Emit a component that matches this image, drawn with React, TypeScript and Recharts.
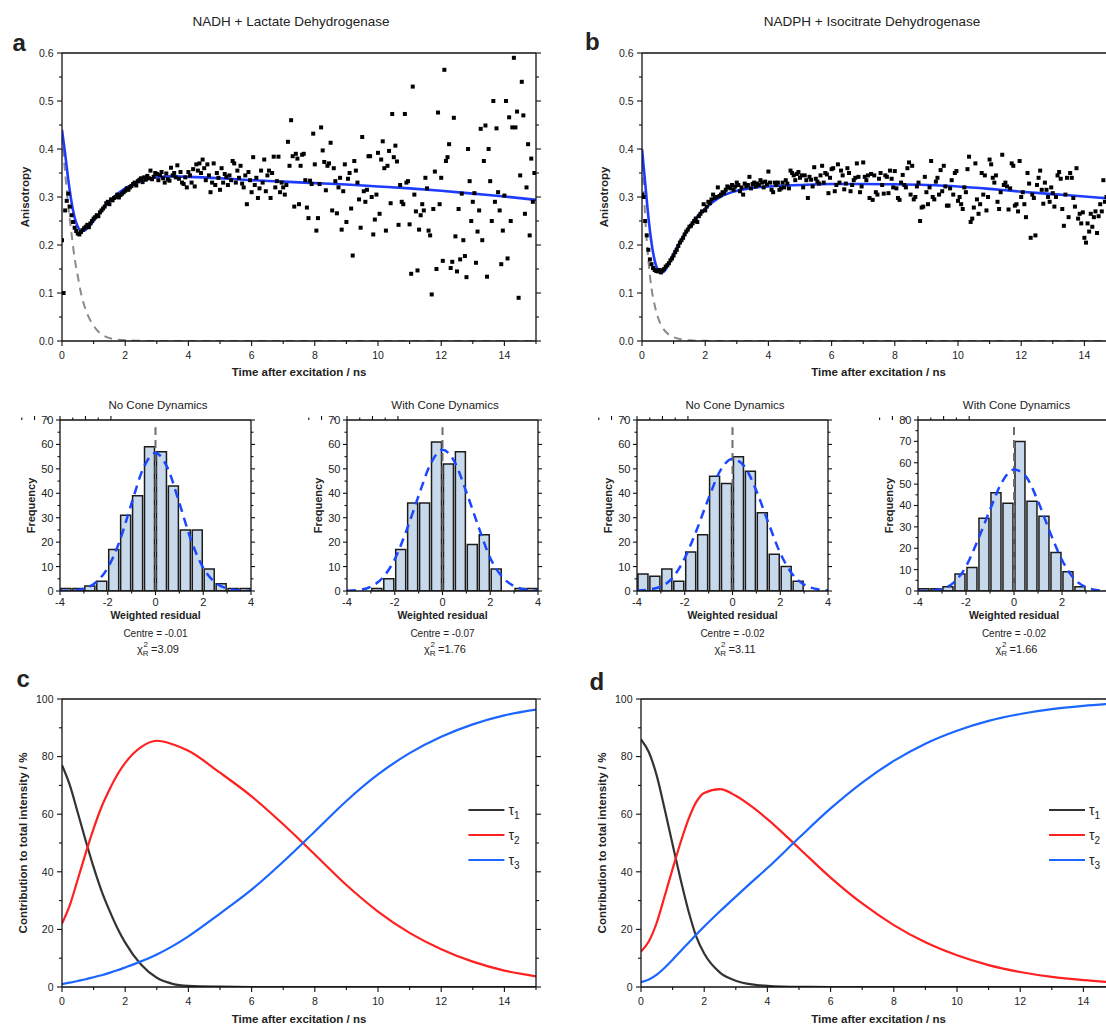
import { Bar, ComposedChart, Line, ReferenceLine, Scatter, XAxis, YAxis } from 'recharts'

const FONT = '"Liberation Sans", Arial, Helvetica, sans-serif'
const INK = '#111111'
const TEXT = '#222222'

// ---------- a / b : anisotropy decays ----------
const STEP_NS = 0.05

const ANISO_A = [
  0.21, 0.10, 0.272, 0.292, 0.307, 0.28, 0.262, 0.248, 0.236, 0.229, 0.224, 0.222, 0.227, 0.231, 0.235, 0.238, 0.242, 0.237, 0.245, 0.25,
  0.255, 0.258, 0.262, 0.26, 0.268, 0.272, 0.276, 0.28, 0.287, 0.29, 0.285, 0.295, 0.293, 0.298, 0.3, 0.305, 0.299, 0.304, 0.307, 0.31,
  0.313, 0.318, 0.315, 0.32, 0.323, 0.327, 0.33, 0.324, 0.333, 0.336, 0.339, 0.331, 0.341, 0.336, 0.344, 0.339, 0.355, 0.337, 0.342, 0.35,
  0.348, 0.335, 0.346, 0.352, 0.339, 0.33, 0.349, 0.337, 0.334, 0.361, 0.345, 0.35, 0.341, 0.366, 0.338, 0.352, 0.33, 0.327, 0.341, 0.32,
  0.352, 0.345, 0.33, 0.358, 0.322, 0.368, 0.355, 0.37, 0.35, 0.378, 0.36, 0.335, 0.368, 0.345, 0.31, 0.33, 0.37, 0.325, 0.35, 0.34,
  0.315, 0.36, 0.33, 0.348, 0.342, 0.325, 0.345, 0.335, 0.375, 0.37, 0.33, 0.355, 0.34, 0.365, 0.328, 0.32, 0.345, 0.285, 0.352, 0.335,
  0.31, 0.383, 0.325, 0.34, 0.298, 0.318, 0.355, 0.33, 0.378, 0.312, 0.345, 0.355, 0.298, 0.35, 0.384, 0.32, 0.333, 0.384, 0.31, 0.33,
  0.32, 0.305, 0.325, 0.415, 0.365, 0.46, 0.385, 0.28, 0.39, 0.38, 0.285, 0.365, 0.388, 0.39, 0.335, 0.278, 0.256, 0.334, 0.327, 0.432,
  0.368, 0.23, 0.256, 0.327, 0.445, 0.397, 0.373, 0.314, 0.365, 0.37, 0.413, 0.272, 0.36, 0.333, 0.266, 0.32, 0.34, 0.232, 0.312, 0.368,
  0.248, 0.338, 0.35, 0.276, 0.178, 0.375, 0.355, 0.33, 0.295, 0.236, 0.425, 0.312, 0.29, 0.315, 0.385, 0.385, 0.3, 0.222, 0.253, 0.305,
  0.392, 0.265, 0.378, 0.416, 0.36, 0.23, 0.365, 0.396, 0.287, 0.473, 0.383, 0.407, 0.374, 0.242, 0.325, 0.29, 0.285, 0.473, 0.33, 0.333,
  0.243, 0.14, 0.53, 0.305, 0.27, 0.147, 0.232, 0.262, 0.285, 0.272, 0.34, 0.318, 0.23, 0.22, 0.097, 0.275, 0.353, 0.15, 0.476, 0.285,
  0.34, 0.167, 0.565, 0.375, 0.383, 0.41, 0.152, 0.165, 0.465, 0.218, 0.145, 0.275, 0.17, 0.307, 0.21, 0.177, 0.133, 0.4, 0.333, 0.25,
  0.29, 0.308, 0.163, 0.228, 0.272, 0.442, 0.21, 0.375, 0.449, 0.134, 0.4, 0.333, 0.25, 0.5, 0.29, 0.443, 0.31, 0.272, 0.16, 0.23,
  0.303, 0.5, 0.172, 0.466, 0.25, 0.445, 0.59, 0.445, 0.478, 0.09, 0.345, 0.54, 0.47, 0.265, 0.32, 0.41, 0.22, 0.38, 0.29, 0.35,
]

const ANISO_B = [
  0.305, 0.3, 0.25, 0.22, 0.19, 0.17, 0.16, 0.152, 0.148, 0.146, 0.145, 0.148, 0.143, 0.147, 0.15, 0.155, 0.158, 0.162, 0.168, 0.172,
  0.178, 0.185, 0.19, 0.198, 0.205, 0.21, 0.215, 0.222, 0.228, 0.232, 0.238, 0.24, 0.245, 0.25, 0.255, 0.248, 0.26, 0.265, 0.27, 0.285,
  0.272, 0.28, 0.29, 0.287, 0.295, 0.305, 0.298, 0.3, 0.32, 0.302, 0.305, 0.31, 0.308, 0.315, 0.322, 0.32, 0.318, 0.325, 0.315, 0.322,
  0.33, 0.325, 0.312, 0.32, 0.305, 0.328, 0.322, 0.325, 0.342, 0.318, 0.327, 0.33, 0.322, 0.328, 0.325, 0.335, 0.33, 0.32, 0.332, 0.326,
  0.353, 0.33, 0.315, 0.31, 0.33, 0.325, 0.33, 0.315, 0.318, 0.33, 0.32, 0.335, 0.328, 0.318, 0.355, 0.35, 0.345, 0.335, 0.348, 0.352,
  0.34, 0.345, 0.32, 0.345, 0.335, 0.298, 0.342, 0.336, 0.322, 0.362, 0.338, 0.332, 0.328, 0.345, 0.365, 0.33, 0.35, 0.347, 0.308, 0.34,
  0.358, 0.36, 0.312, 0.325, 0.368, 0.33, 0.355, 0.345, 0.316, 0.328, 0.36, 0.35, 0.312, 0.325, 0.335, 0.34, 0.37, 0.342, 0.31, 0.322,
  0.372, 0.342, 0.335, 0.345, 0.298, 0.348, 0.294, 0.345, 0.31, 0.305, 0.338, 0.35, 0.325, 0.307, 0.345, 0.342, 0.308, 0.355, 0.338, 0.32,
  0.354, 0.318, 0.298, 0.294, 0.33, 0.346, 0.325, 0.32, 0.36, 0.372, 0.305, 0.365, 0.295, 0.3, 0.322, 0.33, 0.25, 0.278, 0.28, 0.342,
  0.31, 0.285, 0.32, 0.375, 0.3, 0.295, 0.332, 0.34, 0.305, 0.356, 0.312, 0.365, 0.322, 0.282, 0.282, 0.318, 0.335, 0.305, 0.35, 0.354,
  0.292, 0.3, 0.285, 0.275, 0.32, 0.31, 0.358, 0.384, 0.248, 0.255, 0.278, 0.37, 0.295, 0.265, 0.285, 0.35, 0.305, 0.345, 0.272, 0.3,
  0.378, 0.368, 0.34, 0.33, 0.345, 0.29, 0.275, 0.31, 0.388, 0.325, 0.33, 0.322, 0.274, 0.318, 0.37, 0.365, 0.282, 0.285, 0.27, 0.375,
  0.3, 0.31, 0.285, 0.258, 0.35, 0.328, 0.215, 0.305, 0.298, 0.22, 0.325, 0.34, 0.355, 0.315, 0.286, 0.33, 0.315, 0.3, 0.29, 0.32,
  0.308, 0.28, 0.3, 0.345, 0.352, 0.338, 0.275, 0.24, 0.305, 0.34, 0.258, 0.35, 0.34, 0.298, 0.28, 0.36, 0.255, 0.265, 0.245, 0.268,
  0.215, 0.205, 0.245, 0.228, 0.265, 0.238, 0.258, 0.27, 0.225, 0.26, 0.285, 0.27, 0.335, 0.29, 0.3, 0.28, 0.32, 0.265, 0.305, 0.29,
]

const FIT_T_A = [0, 0.1, 0.2, 0.3, 0.4, 0.5, 0.6, 0.7, 0.8, 1, 1.25, 1.5, 1.75, 2, 2.5, 3, 3.5, 4, 5, 6, 7, 8, 9, 10, 11, 12, 13, 14, 15]
const FIT_A = [0.44, 0.39, 0.335, 0.29, 0.257, 0.238, 0.23, 0.23, 0.235, 0.25, 0.272, 0.291, 0.306, 0.318, 0.333, 0.341, 0.343, 0.342, 0.339, 0.335, 0.332, 0.329, 0.326, 0.322, 0.318, 0.313, 0.307, 0.301, 0.294]
const DECAY_T_A = [0, 0.1, 0.2, 0.3, 0.4, 0.5, 0.6, 0.75, 1, 1.3, 1.75, 2.5, 3, 15]
const DECAY_A = [0.43, 0.35, 0.28, 0.225, 0.172, 0.135, 0.1, 0.065, 0.032, 0.012, 0.003, 0.0003, 0, 0]

const FIT_T_B = [0, 0.1, 0.2, 0.3, 0.4, 0.5, 0.6, 0.7, 0.8, 1, 1.25, 1.5, 1.75, 2, 2.5, 3, 3.5, 4, 5, 6, 7, 8, 9, 10, 11, 12, 13, 14, 15]
const FIT_B = [0.4, 0.33, 0.26, 0.205, 0.168, 0.148, 0.142, 0.145, 0.155, 0.182, 0.212, 0.238, 0.259, 0.276, 0.301, 0.313, 0.319, 0.322, 0.325, 0.327, 0.3272, 0.3265, 0.325, 0.322, 0.317, 0.311, 0.306, 0.301, 0.296]
const DECAY_T_B = [0, 0.1, 0.2, 0.3, 0.4, 0.5, 0.6, 0.8, 1, 1.2, 1.5, 2, 3, 15]
const DECAY_B = [0.4, 0.26, 0.17, 0.11, 0.075, 0.05, 0.034, 0.016, 0.008, 0.004, 0.0015, 0.0003, 0, 0]

// ---------- residual histograms ----------
const BIN_CENTRES = [-3.75, -3.25, -2.75, -2.25, -1.75, -1.25, -0.75, -0.25, 0.25, 0.75, 1.25, 1.75, 2.25, 2.75, 3.25, 3.75]
const COUNTS_A_NOCONE = [1, 1, 2, 4, 17, 31, 39, 59, 57, 43, 25, 25, 9, 3, 1, 1]
const COUNTS_A_CONE = [0, 0, 1, 5, 17, 36, 36, 61, 52, 57, 19, 23, 9, 0, 1, 1]
const COUNTS_B_NOCONE = [7, 6, 9, 4, 16, 23, 47, 44, 55, 49, 32, 15, 10, 4, 0, 0]
const COUNTS_B_CONE = [1, 1, 2, 8, 11, 34, 46, 41, 70, 42, 35, 18, 9, 2, 0, 0]

const GAUSS_X = [-4, -3.5, -3, -2.5, -2, -1.5, -1, -0.5, 0, 0.5, 1, 1.5, 2, 2.5, 3, 3.5, 4]
const GAUSS_A_NOCONE = [0.05, 0.2, 1, 3.5, 9.5, 20.5, 36, 50.5, 56.5, 50.5, 36, 20.5, 9.5, 3.5, 1, 0.2, 0.05]
const GAUSS_A_CONE = [0.1, 0.4, 1.8, 5.5, 13, 25, 39, 52, 57.8, 53, 40.5, 26.5, 13.5, 5.8, 2, 0.5, 0.1]
const GAUSS_B_NOCONE = [0.2, 0.6, 1.8, 5.5, 13.5, 25, 38, 49.5, 54, 51, 41, 28, 15.5, 7, 2.6, 0.8, 0.2]
const GAUSS_B_CONE = [0.05, 0.2, 1, 4, 11.5, 24, 38, 51, 56.8, 53.5, 42, 27.5, 14.5, 5.8, 1.8, 0.4, 0.08]

const CENTRE_TEXT = ['-0.01', '-0.07', '-0.02', '-0.02']
const CHI2_TEXT = ['3.09', '1.76', '3.11', '1.66']

// ---------- c / d : intensity contributions ----------
const TIMES_CD = [0, 0.25, 0.5, 0.75, 1, 1.25, 1.5, 1.75, 2, 2.5, 3, 3.5, 4, 5, 6, 7, 8, 9, 10, 11, 12, 13, 14, 15]
const TAU1_C = [77, 70, 60.5, 50.8, 41.6, 33.4, 26.6, 20.5, 15.4, 7.8, 3.2, 1.1, 0.4, 0.1, 0, 0, 0, 0, 0, 0, 0, 0, 0, 0]
const TAU2_C = [22, 28.5, 37.4, 46.5, 55, 62.5, 68.5, 73.7, 77.8, 83.3, 85.5, 84.3, 82, 74.4, 66.2, 56.5, 46, 35.4, 26.2, 18.8, 13.1, 8.8, 5.7, 3.7]
const TAU3_C = [1, 1.5, 2.1, 2.7, 3.4, 4.1, 4.9, 5.8, 6.8, 8.9, 11.3, 14.2, 17.6, 25.5, 33.8, 43.5, 54, 64.6, 73.8, 81.2, 86.9, 91.2, 94.3, 96.3]
const TAU1_D = [86, 81.5, 73.3, 61.7, 49.5, 37.5, 26.5, 17.5, 11.6, 5, 2.2, 0.9, 0.4, 0.05, 0, 0, 0, 0, 0, 0, 0, 0, 0, 0]
const TAU2_D = [12.3, 15.9, 22.4, 31.6, 41, 50.1, 58.2, 64.3, 67.4, 68.7, 66.4, 62.7, 58.3, 48.2, 38, 29, 21.5, 15.5, 11, 7.6, 5.2, 3.5, 2.4, 1.6]
const TAU3_D = [1.7, 2.6, 4.3, 6.7, 9.5, 12.4, 15.3, 18.2, 21, 26.3, 31.4, 36.4, 41.3, 51.8, 62, 71, 78.5, 84.5, 89, 92.4, 94.8, 96.5, 97.6, 98.4]

// ---------- ticks ----------
const TIME_TICKS = [0, 1, 2, 3, 4, 5, 6, 7, 8, 9, 10, 11, 12, 13, 14, 15]
const ANISO_TICKS = [0, 0.05, 0.1, 0.15, 0.2, 0.25, 0.3, 0.35, 0.4, 0.45, 0.5, 0.55, 0.6]
const RESID_TICKS = [-4, -3, -2, -1, 0, 1, 2, 3, 4]
const FREQ_TICKS_70 = [0, 5, 10, 15, 20, 25, 30, 35, 40, 45, 50, 55, 60, 65, 70]
const FREQ_TICKS_80 = [0, 5, 10, 15, 20, 25, 30, 35, 40, 45, 50, 55, 60, 65, 70, 75, 80]
const PCT_TICKS = [0, 10, 20, 30, 40, 50, 60, 70, 80, 90, 100]

// ---------- layout ----------
type Rect = { x: number; y: number; w: number; h: number }
const PLOT: Record<string, Rect> = {
  a: { x: 62, y: 53, w: 474, h: 288 },
  b: { x: 641.5, y: 53, w: 474, h: 288 },
  h1: { x: 60, y: 420, w: 191, h: 171 },
  h2: { x: 347, y: 420, w: 191, h: 171 },
  h3: { x: 637, y: 420, w: 191, h: 171 },
  h4: { x: 918, y: 420, w: 192, h: 171 },
  c: { x: 62, y: 699, w: 474, h: 288 },
  d: { x: 641, y: 699, w: 474, h: 288 },
}
// every axis is 1px thick (recharts skips drawing 0-sized axes), margins make up the rest
const AXIS_PX = 1
const MARGIN = { top: 9, right: 11, bottom: 25, left: 45 }

type TickStyle = { fs: number; major: number; minor: number; below: number; beside: number }
const BIG_TICKS: TickStyle = { fs: 10.5, major: 5, minor: 3, below: 17.5, beside: 8.5 }
const HIST_TICKS: TickStyle = { fs: 11, major: 4, minor: 2.5, below: 15, beside: 6.5 }

type Side = 'bottom' | 'top' | 'left' | 'right'

const everyTwo = (v: number) => Math.round(v) % 2 === 0
const tenth = (v: number) => Math.abs(v * 10 - Math.round(v * 10)) < 1e-6
const everyTen = (v: number) => Math.round(v) % 10 === 0
const everyTwenty = (v: number) => Math.round(v) % 20 === 0

function tickRenderer(side: Side, isMajor: (v: number) => boolean, fmt: ((v: number) => string) | null, st: TickStyle) {
  return (props: any) => {
    const { x, y, payload } = props
    const v = Number(payload.value)
    const major = isMajor(v)
    const len = major ? st.major : st.minor
    let x2 = x
    let y2 = y
    if (side === 'bottom') y2 = y + len
    if (side === 'top') y2 = y - len
    if (side === 'left') x2 = x - len
    if (side === 'right') x2 = x + len
    return (
      <g>
        <line x1={x} y1={y} x2={x2} y2={y2} stroke={INK} strokeWidth={1.1} />
        {major && fmt && side === 'bottom' && (
          <text x={x} y={y + st.below} textAnchor="middle" fontSize={st.fs} fill={TEXT}>{fmt(v)}</text>
        )}
        {major && fmt && side === 'left' && (
          <text x={x - st.beside} y={y} dy="0.36em" textAnchor="end" fontSize={st.fs} fill={TEXT}>{fmt(v)}</text>
        )}
      </g>
    )
  }
}

const AXIS_LINE = { stroke: INK, strokeWidth: 1.3 }

function frame(o: {
  xDomain: [number, number]; xTicks: number[]; xMajor: (v: number) => boolean; xFmt: (v: number) => string
  yDomain: [number, number]; yTicks: number[]; yMajor: (v: number) => boolean; yFmt: (v: number) => string
  st: TickStyle; xKey?: string; yKey?: string
}) {
  const common = { type: 'number' as const, allowDataOverflow: true, tickSize: 0, tickMargin: 0, interval: 0 as const, tickLine: false, axisLine: AXIS_LINE }
  return [
    <XAxis key="xb" xAxisId="x" dataKey={o.xKey} domain={o.xDomain} ticks={o.xTicks} height={AXIS_PX} {...common} tick={tickRenderer('bottom', o.xMajor, o.xFmt, o.st)} />,
    <XAxis key="xt" xAxisId="xt" orientation="top" domain={o.xDomain} ticks={o.xTicks} height={AXIS_PX} {...common} tick={tickRenderer('top', o.xMajor, null, o.st)} />,
    <YAxis key="yl" yAxisId="y" dataKey={o.yKey} domain={o.yDomain} ticks={o.yTicks} width={AXIS_PX} {...common} tick={tickRenderer('left', o.yMajor, o.yFmt, o.st)} />,
    <YAxis key="yr" yAxisId="yr" orientation="right" domain={o.yDomain} ticks={o.yTicks} width={AXIS_PX} {...common} tick={tickRenderer('right', o.yMajor, null, o.st)} />,
  ]
}

function Placed({ plot, children }: { plot: Rect; children: (w: number, h: number) => any }) {
  const w = plot.w + MARGIN.left + MARGIN.right + 2 * AXIS_PX
  const h = plot.h + MARGIN.top + MARGIN.bottom + 2 * AXIS_PX
  return (
    <div style={{ position: 'absolute', left: plot.x - MARGIN.left - AXIS_PX, top: plot.y - MARGIN.top - AXIS_PX }}>
      {children(w, h)}
    </div>
  )
}

const Square = (p: any) => <rect x={p.cx - 2} y={p.cy - 2} width={4} height={4} fill="#000" />

const zip = (ts: number[], vs: number[], key: string) => ts.map((t, i) => ({ t, [key]: vs[i] }))

function AnisoPanel({ plot, values, fitT, fit, decayT, decay }: { plot: Rect; values: number[]; fitT: number[]; fit: number[]; decayT: number[]; decay: number[] }) {
  const points = values.map((r, i) => ({ t: Math.round(i * STEP_NS * 100) / 100, r }))
  return (
    <Placed plot={plot}>
      {(w, h) => (
        <ComposedChart width={w} height={h} margin={MARGIN}>
          {frame({ xDomain: [0, 15], xTicks: TIME_TICKS, xMajor: everyTwo, xFmt: String, yDomain: [0, 0.6], yTicks: ANISO_TICKS, yMajor: tenth, yFmt: v => v.toFixed(1), st: BIG_TICKS, xKey: 't', yKey: 'r' })}
          <Scatter xAxisId="x" yAxisId="y" data={points} dataKey="r" shape={Square} isAnimationActive={false} />
          <Line xAxisId="x" yAxisId="y" data={zip(decayT, decay, 'r')} dataKey="r" type="monotone" stroke="#8a8a8a" strokeWidth={2} strokeDasharray="8 6" dot={false} activeDot={false} isAnimationActive={false} />
          <Line xAxisId="x" yAxisId="y" data={zip(fitT, fit, 'r')} dataKey="r" type="monotone" stroke="#1e3cff" strokeWidth={2.6} dot={false} activeDot={false} isAnimationActive={false} />
        </ComposedChart>
      )}
    </Placed>
  )
}

function HistPanel({ plot, counts, gauss, yMax, dashTop }: { plot: Rect; counts: number[]; gauss: number[]; yMax: number; dashTop: number }) {
  const bins = BIN_CENTRES.map((c, i) => ({ bin: String(c), count: counts[i] }))
  const curve = GAUSS_X.map((x, i) => ({ x, y: gauss[i] }))
  return (
    <Placed plot={plot}>
      {(w, h) => (
        <ComposedChart width={w} height={h} margin={MARGIN} data={bins} barCategoryGap="8%">
          <XAxis xAxisId="cat" dataKey="bin" type="category" hide height={0} />
          {frame({ xDomain: [-4, 4], xTicks: RESID_TICKS, xMajor: everyTwo, xFmt: String, yDomain: [0, yMax], yTicks: yMax === 80 ? FREQ_TICKS_80 : FREQ_TICKS_70, yMajor: everyTen, yFmt: String, st: HIST_TICKS, xKey: 'x' })}
          <Bar xAxisId="cat" yAxisId="y" dataKey="count" fill="#c8d9ec" stroke="#1c1c1c" strokeWidth={1.5} isAnimationActive={false} />
          <ReferenceLine xAxisId="x" yAxisId="y" segment={[{ x: 0, y: 0 }, { x: 0, y: dashTop }]} stroke="#6e6e6e" strokeWidth={2} strokeDasharray="8 5" />
          <Line xAxisId="x" yAxisId="y" data={curve} dataKey="y" type="monotone" stroke="#1a47ff" strokeWidth={2.5} strokeDasharray="9 6" dot={false} activeDot={false} isAnimationActive={false} />
        </ComposedChart>
      )}
    </Placed>
  )
}

const TAU_COLOURS = ['#333333', '#ff2020', '#1a66ff']

function ContribPanel({ plot, series }: { plot: Rect; series: number[][] }) {
  return (
    <Placed plot={plot}>
      {(w, h) => (
        <ComposedChart width={w} height={h} margin={MARGIN}>
          {frame({ xDomain: [0, 15], xTicks: TIME_TICKS, xMajor: everyTwo, xFmt: String, yDomain: [0, 100], yTicks: PCT_TICKS, yMajor: everyTwenty, yFmt: String, st: BIG_TICKS, xKey: 't', yKey: 'v' })}
          {series.map((s, i) => (
            <Line key={i} xAxisId="x" yAxisId="y" data={zip(TIMES_CD, s, 'v')} dataKey="v" type="monotone" stroke={TAU_COLOURS[i]} strokeWidth={2.2} dot={false} activeDot={false} isAnimationActive={false} />
          ))}
        </ComposedChart>
      )}
    </Placed>
  )
}

function T({ x, y, size = 11, bold = false, rotate = false, anchor = 'middle', children }: any) {
  return (
    <text x={x} y={y} fontSize={size} fontWeight={bold ? 700 : 400} fill={TEXT} textAnchor={anchor} transform={rotate ? `rotate(-90 ${x} ${y})` : undefined}>
      {children}
    </text>
  )
}

function Legend({ x, rows }: { x: number; rows: number[] }) {
  return (
    <g>
      {rows.map((y, i) => (
        <g key={i}>
          <line x1={x} y1={y} x2={x + 36} y2={y} stroke={TAU_COLOURS[i]} strokeWidth={2.2} />
          <text x={x + 40} y={y + 5} fontSize={14} fill={TEXT}>τ<tspan fontSize={10} dy={4}>{i + 1}</tspan></text>
        </g>
      ))}
    </g>
  )
}

const HISTS = [
  { plot: PLOT.h1, counts: COUNTS_A_NOCONE, gauss: GAUSS_A_NOCONE, yMax: 70, dashTop: 67, title: 'No Cone Dynamics' },
  { plot: PLOT.h2, counts: COUNTS_A_CONE, gauss: GAUSS_A_CONE, yMax: 70, dashTop: 67, title: 'With Cone Dynamics' },
  { plot: PLOT.h3, counts: COUNTS_B_NOCONE, gauss: GAUSS_B_NOCONE, yMax: 70, dashTop: 67, title: 'No Cone Dynamics' },
  { plot: PLOT.h4, counts: COUNTS_B_CONE, gauss: GAUSS_B_CONE, yMax: 80, dashTop: 77, title: 'With Cone Dynamics' },
]

export default function App() {
  return (
    <div style={{ position: 'absolute', left: 0, top: 0, width: 1106, height: 1024, overflow: 'hidden', background: '#fff', fontFamily: FONT }}>
      <AnisoPanel plot={PLOT.a} values={ANISO_A} fitT={FIT_T_A} fit={FIT_A} decayT={DECAY_T_A} decay={DECAY_A} />
      <AnisoPanel plot={PLOT.b} values={ANISO_B} fitT={FIT_T_B} fit={FIT_B} decayT={DECAY_T_B} decay={DECAY_B} />
      {HISTS.map((hst, i) => (
        <HistPanel key={i} plot={hst.plot} counts={hst.counts} gauss={hst.gauss} yMax={hst.yMax} dashTop={hst.dashTop} />
      ))}
      <ContribPanel plot={PLOT.c} series={[TAU1_C, TAU2_C, TAU3_C]} />
      <ContribPanel plot={PLOT.d} series={[TAU1_D, TAU2_D, TAU3_D]} />

      <svg width={1106} height={1024} style={{ position: 'absolute', left: 0, top: 0, pointerEvents: 'none', fontFamily: FONT }}>
        <T x={291} y={25.5} size={13.5}>NADH + Lactate Dehydrogenase</T>
        <T x={872} y={25.5} size={13.5}>NADPH + Isocitrate Dehydrogenase</T>
        <T x={12.5} y={51} size={24} bold anchor="start">a</T>
        <T x={585} y={50} size={24} bold anchor="start">b</T>
        <T x={16.5} y={687} size={24} bold anchor="start">c</T>
        <T x={589.5} y={690} size={24} bold anchor="start">d</T>

        <T x={29} y={197} size={11.5} bold rotate>Anisotropy</T>
        <T x={608} y={197} size={11.5} bold rotate>Anisotropy</T>
        <T x={299} y={376} size={11.5} bold>Time after excitation / ns</T>
        <T x={878.5} y={376} size={11.5} bold>Time after excitation / ns</T>
        <T x={299} y={1022.5} size={11.5} bold>Time after excitation / ns</T>
        <T x={878.5} y={1022.5} size={11.5} bold>Time after excitation / ns</T>
        <T x={27} y={843} size={11.5} bold rotate>Contribution to total intensity / %</T>
        <T x={606} y={843} size={11.5} bold rotate>Contribution to total intensity / %</T>

        {HISTS.map((hst, i) => {
          const cx = hst.plot.x + hst.plot.w / 2
          return (
            <g key={i}>
              <T x={cx + 2.5} y={408.5} size={11.5}>{hst.title}</T>
              <T x={hst.plot.x - 25} y={505.5} size={11} bold rotate>Frequency</T>
              <T x={cx} y={619} size={10.5} bold>Weighted residual</T>
              <T x={cx} y={637} size={10}>Centre = {CENTRE_TEXT[i]}</T>
              <text x={cx + 2.5} y={653} fontSize={11} fill={TEXT} textAnchor="middle">
                χ<tspan fontSize={8} dy={3}>R</tspan><tspan fontSize={8} dx={-5} dy={-9}>2</tspan><tspan dy={6}> ={CHI2_TEXT[i]}</tspan>
              </text>
            </g>
          )
        })}

        <Legend x={468.4} rows={[810, 835, 860]} />
        <Legend x={1049} rows={[810, 835, 860]} />
      </svg>
    </div>
  )
}
